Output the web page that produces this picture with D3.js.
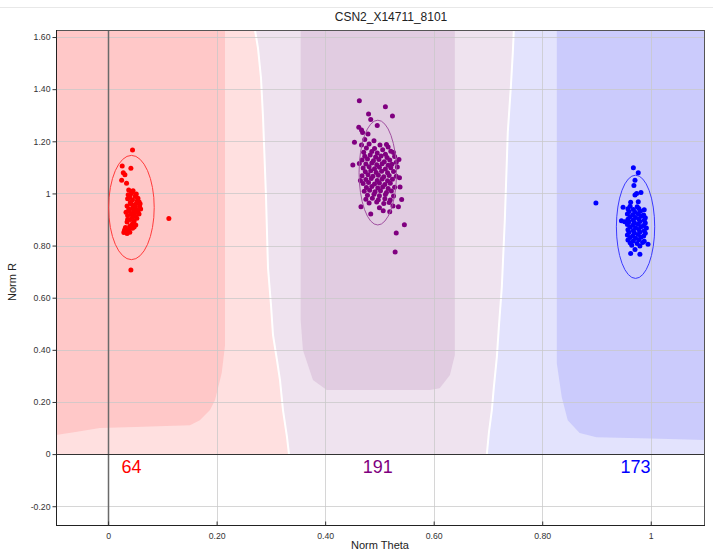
<!DOCTYPE html>
<html>
<head>
<meta charset="utf-8">
<script src="https://cdn.jsdelivr.net/npm/d3@7"></script>
<style>
  html, body { margin: 0; padding: 0; background: #fff; }
  svg { display: block; font-family: "Liberation Sans", Arial, sans-serif; }
</style>
</head>
<body>
<svg id="chart" width="713" height="555"></svg>
<script>
// ---------------- DATA ----------------
const chartTitle = "CSN2_X14711_8101";
const xLabel = "Norm Theta";
const yLabel = "Norm R";
const xTicks = [0, 0.2, 0.4, 0.6, 0.8, 1];
const xTickLabels = ["0", "0.20", "0.40", "0.60", "0.80", "1"];
const yTicks = [-0.2, 0, 0.2, 0.4, 0.6, 0.8, 1, 1.2, 1.4, 1.6];
const yTickLabels = ["-0.20", "0", "0.20", "0.40", "0.60", "0.80", "1", "1.20", "1.40", "1.60"];
const xDomain = [-0.096, 1.1];
const yDomain = [-0.272, 1.627];

const clusterNames = ["AA", "AB", "BB"];
const clusterCounts = [64, 191, 173];
// ellipse: [centerTheta, centerR, radiusTheta, radiusR]
const clusterEllipses = [
  [0.043, 0.946, 0.042, 0.200],
  [0.497, 1.080, 0.0345, 0.201],
  [0.972, 0.872, 0.0353, 0.198]
];

// boundary between AA and AB call regions (theta, r)
const boundaryAA_AB = [[0.3333,0],[0.3297,0.065],[0.3223,0.169],[0.3168,0.284],[0.3112,0.361],[0.3039,0.457],[0.3002,0.572],[0.2947,0.714],[0.2910,0.986],[0.2855,1.293],[0.2818,1.443],[0.2762,1.558],[0.2707,1.627]];
// boundary between AB and BB call regions
const boundaryAB_BB = [[0.6980,0],[0.7017,0.081],[0.7072,0.169],[0.7109,0.257],[0.7164,0.372],[0.7201,0.487],[0.7256,0.641],[0.7311,0.898],[0.7366,1.236],[0.7422,1.408],[0.7459,1.543],[0.7477,1.627]];
// inner (high-confidence) regions
const coreAA = [[-0.096,1.627],[0.2155,1.627],[0.2155,0.418],[0.2094,0.311],[0.197,0.207],[0.1878,0.169],[0.169,0.130],[0.151,0.111],[0.05,0.104],[-0.015,0.100],[-0.06,0.085],[-0.096,0.073]];
const coreAB = [[0.3549,1.627],[0.6390,1.627],[0.6390,0.380],[0.6300,0.303],[0.6110,0.253],[0.5930,0.246],[0.4030,0.246],[0.3775,0.284],[0.3590,0.399],[0.3549,0.514]];
const coreBB = [[0.8269,1.627],[1.1,1.627],[1.1,0.054],[1.0,0.060],[0.90,0.065],[0.869,0.081],[0.847,0.130],[0.836,0.219],[0.8269,0.349]];

const pointsAA = [
  [0.045,1.167],[0.026,1.105],[0.042,1.097],[0.028,1.079],[0.031,1.072],[0.025,1.051],[0.034,1.039],[0.112,0.904],[0.042,0.706],
  [0.038,1.013],[0.046,1.010],[0.043,1.000],[0.052,0.998],[0.040,0.992],[0.050,0.988],[0.055,0.982],[0.036,0.980],[0.045,0.975],
  [0.057,0.968],[0.041,0.965],[0.050,0.958],[0.058,0.950],[0.035,0.952],[0.045,0.942],[0.053,0.936],[0.039,0.932],[0.049,0.926],
  [0.057,0.921],[0.036,0.915],[0.045,0.910],[0.053,0.905],[0.041,0.900],[0.048,0.894],[0.035,0.890],[0.045,0.884],[0.051,0.879],
  [0.040,0.874],[0.032,0.869],[0.045,0.866],[0.038,0.860],[0.030,0.856],[0.040,0.851],[0.035,0.846],[0.029,0.850],[0.042,0.960],
  [0.038,0.940],[0.050,0.946],[0.043,0.920],[0.047,0.930],[0.040,0.985],[0.054,0.972],[0.059,0.960],[0.060,0.940],[0.033,0.928],
  [0.036,0.900],[0.050,0.912],[0.042,0.876],[0.048,0.871],[0.031,0.863],[0.043,1.003],[0.053,0.962],[0.037,0.995],[0.046,0.948],[0.055,0.930]
];

const pointsAB = [
  [0.463,1.356],[0.511,1.333],[0.480,1.305],[0.524,1.297],[0.484,1.284],[0.496,1.261],[0.462,1.254],[0.467,1.243],[0.469,1.234],
  [0.479,1.228],[0.473,1.207],[0.454,1.196],[0.490,1.202],[0.467,1.186],[0.451,1.109],[0.513,1.188],[0.541,0.977],[0.466,0.949],
  [0.484,0.921],[0.507,0.934],[0.535,0.949],[0.519,0.930],[0.546,0.880],[0.531,0.848],[0.529,0.775],[0.525,0.952],[0.500,0.945],
  [0.481,1.190],[0.501,1.186],[0.516,1.178],
  [0.476,1.174],[0.491,1.172],[0.506,1.168],[0.521,1.162],
  [0.471,1.158],[0.486,1.161],[0.496,1.155],[0.511,1.150],[0.526,1.157],
  [0.473,1.143],[0.483,1.147],[0.493,1.140],[0.503,1.144],[0.514,1.138],[0.528,1.142],
  [0.468,1.128],[0.478,1.132],[0.489,1.125],[0.499,1.130],[0.509,1.122],[0.519,1.128],[0.531,1.120],
  [0.475,1.113],[0.486,1.117],[0.495,1.110],[0.505,1.114],[0.516,1.108],[0.523,1.112],
  [0.470,1.098],[0.481,1.102],[0.491,1.095],[0.500,1.100],[0.511,1.094],[0.521,1.099],[0.533,1.101],
  [0.474,1.083],[0.484,1.087],[0.494,1.080],[0.504,1.085],[0.515,1.079],[0.526,1.084],
  [0.468,1.068],[0.479,1.072],[0.488,1.066],[0.498,1.070],[0.508,1.064],[0.518,1.069],[0.531,1.066],
  [0.475,1.053],[0.485,1.057],[0.496,1.050],[0.505,1.055],[0.515,1.049],[0.524,1.054],
  [0.470,1.038],[0.480,1.042],[0.491,1.036],[0.500,1.040],[0.510,1.034],[0.520,1.039],
  [0.476,1.023],[0.486,1.027],[0.497,1.021],[0.506,1.025],[0.516,1.019],[0.528,1.024],
  [0.472,1.008],[0.482,1.012],[0.492,1.006],[0.502,1.010],[0.513,1.004],[0.522,1.009],
  [0.478,0.993],[0.490,0.997],[0.500,0.991],[0.511,0.996],[0.526,0.990],
  [0.475,0.978],[0.487,0.982],[0.498,0.976],[0.510,0.980],[0.520,0.975],
  [0.481,0.963],[0.495,0.967],[0.508,0.961],[0.518,0.965],
  [0.536,1.130],[0.537,1.060],[0.465,1.050],[0.463,1.115],[0.538,1.025]
];

const pointsBB = [
  [0.968,1.099],[0.977,1.079],[0.971,1.051],[0.969,1.030],[0.982,1.004],[0.974,1.000],[0.971,0.994],[0.899,0.963],[0.963,0.966],
  [0.977,0.968],[0.949,0.947],[0.946,0.895],[0.952,0.891],[0.995,0.805],[0.963,0.770],[0.980,0.767],[0.971,0.785],
  [0.962,0.951],[0.975,0.949],
  [0.958,0.941],[0.968,0.938],[0.978,0.942],[0.988,0.937],
  [0.960,0.931],[0.971,0.928],[0.981,0.932],
  [0.957,0.921],[0.967,0.918],[0.977,0.922],[0.987,0.917],
  [0.962,0.911],[0.972,0.908],[0.982,0.912],[0.990,0.907],
  [0.958,0.901],[0.968,0.898],[0.978,0.902],[0.988,0.897],
  [0.960,0.891],[0.970,0.888],[0.980,0.892],[0.990,0.887],
  [0.957,0.881],[0.967,0.878],[0.977,0.882],[0.987,0.877],
  [0.962,0.871],[0.972,0.868],[0.982,0.872],[0.992,0.867],
  [0.958,0.861],[0.968,0.858],[0.978,0.862],[0.988,0.857],
  [0.960,0.851],[0.970,0.848],[0.980,0.852],[0.990,0.847],
  [0.957,0.841],[0.967,0.838],[0.977,0.842],[0.987,0.837],
  [0.962,0.831],[0.972,0.828],[0.982,0.832],
  [0.958,0.821],[0.968,0.818],[0.978,0.822],[0.988,0.817],
  [0.962,0.811],[0.975,0.808],[0.985,0.812],
  [0.965,0.801],[0.980,0.798]
];

// ---------------- STYLE ----------------
const W = 713, H = 555;
const M = { left: 56, right: 705, top: 30, bottom: 525 };
const clusterColors = ["#ff0000", "#800080", "#0000ff"];
const ellipseColors = ["#ff3c3c", "#a050a0", "#3a3aff"];
const lightFills = ["#ffe0e0", "#efe3ef", "#e3e3fd"];
const coreFills = ["#ffc8c8", "#e1cce1", "#cbcbfc"];

const svg = d3.select("#chart");
const x = d3.scaleLinear().domain(xDomain).range([M.left, M.right]);
const y = d3.scaleLinear().domain(yDomain).range([M.bottom, M.top]);

// window line at top
svg.append("line").attr("x1", 0).attr("x2", W).attr("y1", 7.5).attr("y2", 7.5)
  .attr("stroke", "#e8e8e8").attr("stroke-width", 1);

const clip = svg.append("defs").append("clipPath").attr("id", "plotclip");
clip.append("rect").attr("x", M.left).attr("y", M.top).attr("width", M.right - M.left).attr("height", M.bottom - M.top);

const g = svg.append("g").attr("clip-path", "url(#plotclip)");
const line = d3.line().x(d => x(d[0])).y(d => y(d[1]));
const stepLine = d3.line().x(d => x(d[0])).y(d => y(d[1])).curve(d3.curveStepAfter);

// light call regions (above r = 0)
const rTop = yDomain[1], tLeft = xDomain[0], tRight = xDomain[1];
const regionAA = [[tLeft, 0], ...boundaryAA_AB, [tLeft, rTop]];
const regionAB = [...boundaryAA_AB, ...boundaryAB_BB.slice().reverse()];
const regionBB = [...boundaryAB_BB, [tRight, rTop], [tRight, 0]];
[regionAA, regionAB, regionBB].forEach((r, i) => {
  g.append("path").attr("d", line(r) + "Z").attr("fill", lightFills[i]);
});
[coreAA, coreAB, coreBB].forEach((r, i) => {
  g.append("path").attr("d", line(r) + "Z").attr("fill", coreFills[i]);
});
[boundaryAA_AB, boundaryAB_BB].forEach(b => {
  g.append("path").attr("d", line(b)).attr("fill", "none").attr("stroke", "#fff").attr("stroke-width", 2);
});

// grid
g.selectAll(".gx").data(xTicks).enter().append("line")
  .attr("x1", d => Math.round(x(d)) + 0.5).attr("x2", d => Math.round(x(d)) + 0.5)
  .attr("y1", M.top).attr("y2", M.bottom)
  .attr("stroke", "#c8c8c8").attr("stroke-opacity", 0.75);
g.selectAll(".gy").data(yTicks).enter().append("line")
  .attr("y1", d => Math.round(y(d)) + 0.5).attr("y2", d => Math.round(y(d)) + 0.5)
  .attr("x1", M.left).attr("x2", M.right)
  .attr("stroke", "#c8c8c8").attr("stroke-opacity", 0.75);

// zero lines
g.append("line").attr("x1", Math.round(x(0)) + 0.5).attr("x2", Math.round(x(0)) + 0.5)
  .attr("y1", M.top).attr("y2", M.bottom).attr("stroke", "#6a6a6a").attr("stroke-width", 1.5);
g.append("line").attr("x1", M.left).attr("x2", M.right)
  .attr("y1", Math.round(y(0)) + 0.5).attr("y2", Math.round(y(0)) + 0.5)
  .attr("stroke", "#333").attr("stroke-width", 1);

// points
[pointsAA, pointsAB, pointsBB].forEach((pts, i) => {
  g.selectAll(null).data(pts).enter().append("circle")
    .attr("cx", d => x(d[0])).attr("cy", d => y(d[1])).attr("r", 2.5)
    .attr("fill", clusterColors[i]);
});

// ellipses
clusterEllipses.forEach((e, i) => {
  g.append("ellipse")
    .attr("cx", x(e[0])).attr("cy", y(e[1]))
    .attr("rx", x(e[0] + e[2]) - x(e[0])).attr("ry", y(e[1]) - y(e[1] + e[3]))
    .attr("fill", "none").attr("stroke", ellipseColors[i]).attr("stroke-width", 1);
});

// counts
clusterCounts.forEach((c, i) => {
  svg.append("text").attr("x", x(clusterEllipses[i][0])).attr("y", 473)
    .attr("text-anchor", "middle").attr("font-size", 18)
    .attr("fill", clusterColors[i]).text(c);
});

// frame
svg.append("rect").attr("x", M.left + 0.5).attr("y", M.top + 0.5)
  .attr("width", M.right - M.left - 1).attr("height", M.bottom - M.top)
  .attr("fill", "none").attr("stroke", "#555");
svg.append("line").attr("x1", M.left + 0.5).attr("x2", M.left + 0.5).attr("y1", M.top).attr("y2", M.bottom + 1)
  .attr("stroke", "#222");
svg.append("line").attr("x1", M.left).attr("x2", M.right).attr("y1", M.bottom + 0.5).attr("y2", M.bottom + 0.5)
  .attr("stroke", "#222");

// axes
const xAxis = d3.axisBottom(x).tickValues(xTicks).tickFormat((d, i) => xTickLabels[i]).tickSize(-4).tickPadding(7);
const yAxis = d3.axisLeft(y).tickValues(yTicks).tickFormat((d, i) => yTickLabels[i]).tickSize(4).tickPadding(2);
const gx = svg.append("g").attr("transform", `translate(0,${M.bottom + 0.5})`).call(xAxis);
const gy = svg.append("g").attr("transform", `translate(${M.left + 0.5},0)`).call(yAxis);
[gx, gy].forEach(a => {
  a.select(".domain").remove();
  a.selectAll(".tick line").attr("stroke", "#333");
  a.selectAll(".tick text").attr("fill", "#333").attr("font-size", 8.7)
    .attr("font-family", "'Liberation Sans', Arial, sans-serif");
});

// titles
svg.append("text").attr("x", 391).attr("y", 21).attr("text-anchor", "middle")
  .attr("font-size", 12).attr("fill", "#222").text(chartTitle);
svg.append("text").attr("x", 380).attr("y", 549).attr("text-anchor", "middle")
  .attr("font-size", 11).attr("fill", "#222").text(xLabel);
svg.append("text").attr("transform", "translate(16,282) rotate(-90)").attr("text-anchor", "middle")
  .attr("font-size", 11).attr("fill", "#222").text(yLabel);
</script>
</body>
</html>
